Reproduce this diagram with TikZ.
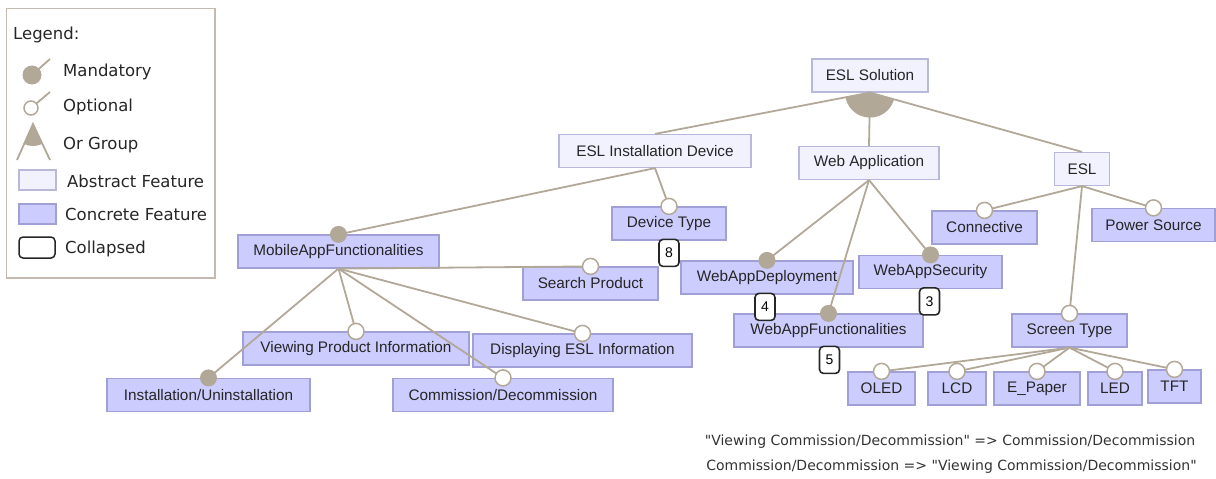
\documentclass[tikz,border=0pt]{standalone}
\usepackage{fontspec}
\setmainfont{Liberation Sans}
\newfontfamily\legendfont{DejaVu Sans}
\usetikzlibrary{positioning}

\definecolor{absfill}{RGB}{242,242,255}
\definecolor{absdraw}{RGB}{184,184,218}
\definecolor{concfill}{RGB}{204,204,255}
\definecolor{concdraw}{RGB}{160,160,214}
\definecolor{linkc}{RGB}{178,168,152}
\definecolor{legdraw}{RGB}{196,186,176}

\begin{document}
\begin{tikzpicture}[x=1pt,y=1pt,
    feat/.style={rectangle,draw,line width=1.2pt,inner sep=0pt,minimum height=33pt,
      text=black!85,font=\fontsize{15.3}{18}\selectfont},
    abstract/.style={feat,fill=absfill,draw=absdraw},
    concrete/.style={feat,fill=concfill,draw=concdraw},
    link/.style={draw=linkc,line width=1.8pt},
    mand/.style={circle,fill=linkc,inner sep=0pt,minimum size=17pt},
    opt/.style={circle,draw=linkc,fill=white,line width=1.5pt,inner sep=0pt,minimum size=16pt},
    collapsed/.style={draw=black!85,line width=1.6pt,rounded corners=4pt,fill=white,inner sep=0pt,
      minimum width=20pt,minimum height=27pt,font=\fontsize{14}{16}\selectfont},
    legtext/.style={anchor=base west,inner sep=0pt,text=black!85,font=\legendfont\fontsize{16.5}{19}\selectfont},
    constr/.style={inner sep=0pt,text=black!80,font=\legendfont\fontsize{14}{16}\selectfont}]

  \useasboundingbox (0,0) rectangle (1216,-479);

  % Legend
  \draw[legdraw,line width=1.3pt] (6.5,-8.5) rectangle (215,-278);
  \node[legtext] (lgtitle) at (13,-39) {Legend:};
  \draw[link] (32,-75) -- (50,-59);
  \fill[linkc] (32,-75) circle[radius=9.5];
  \node[legtext] (lgmand) at (63,-76) {Mandatory};
  \draw[link] (31,-108) -- (50,-92);
  \draw[linkc,line width=1.5pt,fill=white] (31,-108) circle[radius=7];
  \node[legtext] (lgopt) at (63,-111) {Optional};
  \draw[link] (17,-160) -- (33,-124) -- (50,-160);
  \fill[linkc] (33,-124) -- ++(246:22) arc[start angle=246,end angle=295.3,radius=22] -- cycle;
  \node[legtext] (lgor) at (63,-149) {Or Group};
  \draw[absdraw,fill=absfill,line width=1.2pt] (19,-170) rectangle (56,-190);
  \node[legtext] (lgabs) at (67,-187) {Abstract Feature};
  \draw[concdraw,fill=concfill,line width=1.2pt] (19,-204) rectangle (56,-224);
  \node[legtext] (lgconc) at (65,-220) {Concrete Feature};
  \draw[black!85,line width=1.5pt,rounded corners=4pt] (19,-237) rectangle (55,-258);
  \node[legtext] (lgcoll) at (65,-253) {Collapsed};

  % Abstract features
  \node[abstract,minimum width=116pt] (sol)    at (870,-75.5)  {ESL Solution};
  \node[abstract,minimum width=192pt] (inst)   at (655,-151)   {ESL Installation Device};
  \node[abstract,minimum width=140pt] (webapp) at (869,-163)   {Web Application};
  \node[abstract,minimum width=55pt]  (esl)    at (1082,-169)  {ESL};

  % Concrete features
  \node[concrete,minimum width=105pt] (conn)   at (984.5,-227.5) {Connective};
  \node[concrete,minimum width=123pt] (power)  at (1153.5,-225)  {Power Source};
  \node[concrete,minimum width=114pt] (dtype)  at (669,-223.5)   {Device Type};
  \node[concrete,minimum width=201pt] (maf)    at (338.5,-251.5) {MobileAppFunctionalities};
  \node[concrete,minimum width=135pt] (search) at (590.5,-283.5) {Search Product};
  \node[concrete,minimum width=172pt] (wad)    at (767,-277.5)   {WebAppDeployment};
  \node[concrete,minimum width=143pt] (wasec)  at (930.5,-272)   {WebAppSecurity};
  \node[concrete,minimum width=189pt] (waf)    at (828.5,-330.5) {WebAppFunctionalities};
  \node[concrete,minimum width=226pt] (view)   at (356,-348.5)   {Viewing Product Information};
  \node[concrete,minimum width=219pt] (disp)   at (582.5,-350.5) {Displaying ESL Information};
  \node[concrete,minimum width=203pt] (inun)   at (208.5,-395)   {Installation/Uninstallation};
  \node[concrete,minimum width=220pt] (comm)   at (503,-395)     {Commission/Decommission};
  \node[concrete,minimum width=115pt] (screen) at (1069.5,-330.5) {Screen Type};
  \node[concrete,minimum width=67pt]  (oled)   at (881.5,-388.5) {OLED};
  \node[concrete,minimum width=58pt]  (lcd)    at (957,-388.5)   {LCD};
  \node[concrete,minimum width=86pt]  (epaper) at (1037,-388.5)  {E\_Paper};
  \node[concrete,minimum width=54pt]  (led)    at (1115,-388.5)  {LED};
  \node[concrete,minimum width=53pt]  (tft)    at (1174.5,-386.5) {TFT};

  % ESL Solution: or group of its three children
  \draw[link] (sol.south) -- (inst.north);
  \draw[link] (sol.south) -- (webapp.north);
  \draw[link] (sol.south) -- (esl.north);
  \fill[linkc] (sol.south) -- ++(191.3:25) arc[start angle=191.3,end angle=343.95,radius=25] -- cycle;

  % ESL Installation Device: MobileAppFunctionalities (mandatory), Device Type (optional)
  \draw[link] (inst.south) -- (maf.north);
  \draw[link] (inst.south) -- (dtype.north);

  % Web Application: all three mandatory
  \draw[link] (webapp.south) -- (wad.north);
  \draw[link] (webapp.south) -- (waf.north);
  \draw[link] (webapp.south) -- (wasec.north);

  % ESL: all three optional
  \draw[link] (esl.south) -- (conn.north);
  \draw[link] (esl.south) -- (power.north);
  \draw[link] (esl.south) -- (screen.north);

  % MobileAppFunctionalities: Installation/Uninstallation mandatory, rest optional
  \draw[link] (maf.south) -- (search.north);
  \draw[link] (maf.south) -- (view.north);
  \draw[link] (maf.south) -- (disp.north);
  \draw[link] (maf.south) -- (inun.north);
  \draw[link] (maf.south) -- (comm.north);

  % Screen Type: all optional
  \foreach \c in {oled,lcd,epaper,led,tft}
    \draw[link] (screen.south) -- (\c.north);

  % Mandatory / optional marks
  \node[mand] (mmaf)    at (maf.north)   {};
  \node[mand] (mwad)    at (wad.north)   {};
  \node[mand] (mwaf)    at (waf.north)   {};
  \node[mand] (mwasec)  at (wasec.north) {};
  \node[mand] (minun)   at (inun.north)  {};
  \foreach \c in {dtype,conn,power,screen,search,view,disp,comm,oled,lcd,epaper,led,tft}
    \node[opt] (o\c) at (\c.north) {};

  % Collapsed subtrees
  \node[collapsed,below=-2pt of dtype] (cdtype) {8};
  \node[collapsed,below=-2pt of wad,xshift=-2pt] (cwad) {4};
  \node[collapsed,below=-2pt of wasec,xshift=-1pt] (cwasec) {3};
  \node[collapsed,below=-2pt of waf,xshift=1pt] (cwaf) {5};

  % Constraints
  \node[constr] (cons1) at (950,-442) {"Viewing Commission/Decommission" => Commission/Decommission};
  \node[constr] (cons2) at (951.5,-467) {Commission/Decommission => "Viewing Commission/Decommission"};

\end{tikzpicture}
\end{document}
